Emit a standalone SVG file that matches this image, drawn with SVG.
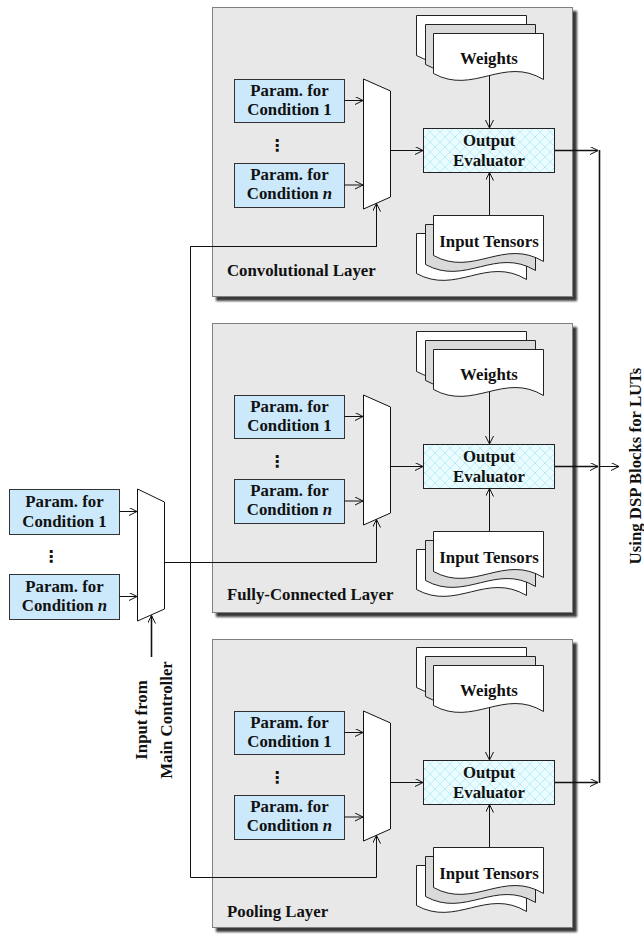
<svg xmlns="http://www.w3.org/2000/svg" xmlns:xlink="http://www.w3.org/1999/xlink" width="644" height="934" viewBox="0 0 644 934">
<style>
text{font-family:"Liberation Serif","Times New Roman",serif;font-weight:bold;font-size:16.8px;fill:#111}
.c{text-anchor:middle}
.layer{fill:#e8e8e8;stroke:#808080;stroke-width:1}
.param{fill:#cce9fb;stroke:#333;stroke-width:1}
.mux{fill:#fff;stroke:#111;stroke-width:1}
.eval{fill:url(#hatch);stroke:#222;stroke-width:1}
.sheet{fill:#fff;stroke:#222;stroke-width:1}
.dotted{fill:url(#dots);stroke:#222;stroke-width:1}
.wire{fill:none;stroke:#111;stroke-width:1}
.bus{fill:none;stroke:#111;stroke-width:1.6}
.dots{font-family:"DejaVu Sans",sans-serif;font-weight:bold;font-size:16px}
</style>
<defs>
<filter id="shadow" x="-5%" y="-5%" width="115%" height="115%">
<feDropShadow dx="4" dy="4" stdDeviation="1.2" flood-color="#222" flood-opacity="0.9"/>
</filter>
<pattern id="dots" width="2" height="2" patternUnits="userSpaceOnUse">
<rect width="2" height="2" fill="#f4f4f4"/><rect width="1" height="1" fill="#8a8a8a"/>
</pattern>
<pattern id="hatch" width="10" height="10" patternUnits="userSpaceOnUse">
<rect width="10" height="10" fill="#eafcff"/>
<path d="M0,5 L5,0 L10,5 L5,10 Z" fill="none" stroke="#bdeef6" stroke-width="1"/>
</pattern>
<path id="doc" d="M0,0 H110 V46 C70,22 40,62 0,40 Z"/>
<marker id="arr" markerWidth="10" markerHeight="10" refX="8" refY="4" orient="auto" markerUnits="userSpaceOnUse">
<path d="M0,0 L8,4 L0,8" fill="none" stroke="#111" stroke-width="1"/>
</marker>
</defs>

<!-- Convolutional layer -->
<g id="conv-layer" transform="translate(0,7)">
<rect class="layer" x="212.5" y="0.5" width="360" height="289" filter="url(#shadow)"/>
<text x="227" y="269">Convolutional Layer</text>
<g id="conv-param1"><rect class="param" x="234.5" y="72.5" width="110" height="43"/>
<text class="c" x="289.5" y="89">Param. for</text><text class="c" x="289.5" y="108">Condition 1</text></g>
<text class="dots c" x="277" y="144">⋮</text>
<g id="conv-paramn"><rect class="param" x="234.5" y="156.5" width="110" height="44"/>
<text class="c" x="289.5" y="173">Param. for</text><text class="c" x="289.5" y="192">Condition <tspan font-style="italic">n</tspan></text></g>
<g id="conv-mux"><polygon class="mux" points="363.5,72 390.5,84 390.5,190 363.5,202"/></g>
<g id="conv-weights">
<use href="#doc" class="sheet" x="416.5" y="8.5"/>
<use href="#doc" class="dotted" x="425.5" y="17.5"/>
<use href="#doc" class="sheet" x="433.5" y="26.5"/>
<text class="c" x="489" y="57">Weights</text></g>
<g id="conv-eval"><rect class="eval" x="423.5" y="121.5" width="131" height="44"/>
<text class="c" x="489" y="139">Output</text><text class="c" x="489" y="159">Evaluator</text></g>
<g id="conv-input">
<use href="#doc" class="sheet" x="416.5" y="226.5"/>
<use href="#doc" class="dotted" x="425.5" y="217.5"/>
<use href="#doc" class="sheet" x="433.5" y="208.5"/>
<text class="c" x="489" y="240">Input Tensors</text></g>
</g>

<!-- Fully-connected layer -->
<g id="fc-layer" transform="translate(0,323)">
<rect class="layer" x="212.5" y="0.5" width="360" height="289" filter="url(#shadow)"/>
<text x="227" y="277">Fully-Connected Layer</text>
<g id="fc-param1"><rect class="param" x="234.5" y="72.5" width="110" height="43"/>
<text class="c" x="289.5" y="89">Param. for</text><text class="c" x="289.5" y="108">Condition 1</text></g>
<text class="dots c" x="277" y="144">⋮</text>
<g id="fc-paramn"><rect class="param" x="234.5" y="156.5" width="110" height="44"/>
<text class="c" x="289.5" y="173">Param. for</text><text class="c" x="289.5" y="192">Condition <tspan font-style="italic">n</tspan></text></g>
<g id="fc-mux"><polygon class="mux" points="363.5,72 390.5,84 390.5,190 363.5,202"/></g>
<g id="fc-weights">
<use href="#doc" class="sheet" x="416.5" y="8.5"/>
<use href="#doc" class="dotted" x="425.5" y="17.5"/>
<use href="#doc" class="sheet" x="433.5" y="26.5"/>
<text class="c" x="489" y="57">Weights</text></g>
<g id="fc-eval"><rect class="eval" x="423.5" y="121.5" width="131" height="44"/>
<text class="c" x="489" y="139">Output</text><text class="c" x="489" y="159">Evaluator</text></g>
<g id="fc-input">
<use href="#doc" class="sheet" x="416.5" y="226.5"/>
<use href="#doc" class="dotted" x="425.5" y="217.5"/>
<use href="#doc" class="sheet" x="433.5" y="208.5"/>
<text class="c" x="489" y="240">Input Tensors</text></g>
</g>

<!-- Pooling layer -->
<g id="pool-layer" transform="translate(0,639)">
<rect class="layer" x="212.5" y="0.5" width="360" height="288" filter="url(#shadow)"/>
<text x="227" y="278">Pooling Layer</text>
<g id="pool-param1"><rect class="param" x="234.5" y="72.5" width="110" height="43"/>
<text class="c" x="289.5" y="89">Param. for</text><text class="c" x="289.5" y="108">Condition 1</text></g>
<text class="dots c" x="277" y="144">⋮</text>
<g id="pool-paramn"><rect class="param" x="234.5" y="156.5" width="110" height="44"/>
<text class="c" x="289.5" y="173">Param. for</text><text class="c" x="289.5" y="192">Condition <tspan font-style="italic">n</tspan></text></g>
<g id="pool-mux"><polygon class="mux" points="363.5,72 390.5,84 390.5,190 363.5,202"/></g>
<g id="pool-weights">
<use href="#doc" class="sheet" x="416.5" y="8.5"/>
<use href="#doc" class="dotted" x="425.5" y="17.5"/>
<use href="#doc" class="sheet" x="433.5" y="26.5"/>
<text class="c" x="489" y="57">Weights</text></g>
<g id="pool-eval"><rect class="eval" x="423.5" y="121.5" width="131" height="44"/>
<text class="c" x="489" y="139">Output</text><text class="c" x="489" y="159">Evaluator</text></g>
<g id="pool-input">
<use href="#doc" class="sheet" x="416.5" y="226.5"/>
<use href="#doc" class="dotted" x="425.5" y="217.5"/>
<use href="#doc" class="sheet" x="433.5" y="208.5"/>
<text class="c" x="489" y="240">Input Tensors</text></g>
</g>

<!-- Top-level selector -->
<g id="top-param1"><rect class="param" x="9.5" y="489.5" width="110" height="45"/>
<text class="c" x="64.5" y="507">Param. for</text><text class="c" x="64.5" y="527">Condition 1</text></g>
<text class="dots c" x="51" y="562">⋮</text>
<g id="top-paramn"><rect class="param" x="9.5" y="574.5" width="110" height="45"/>
<text class="c" x="64.5" y="592">Param. for</text><text class="c" x="64.5" y="611">Condition <tspan font-style="italic">n</tspan></text></g>
<g id="top-mux"><polygon class="mux" points="137.5,489 164.5,502 164.5,609 137.5,621"/></g>
<g id="main-controller-label">
<text class="c" transform="translate(147,720) rotate(-90)">Input from</text>
<text class="c" transform="translate(172,720) rotate(-90)">Main Controller</text>
</g>
<g id="dsp-label">
<text class="c" transform="translate(641,466) rotate(-90)">Using DSP Blocks for LUTs</text>
</g>

<!-- Connectors -->
<g id="connectors">
<!-- conv -->
<path class="wire" d="M344.5,100.5 H363" marker-end="url(#arr)"/>
<path class="wire" d="M344.5,185 H363" marker-end="url(#arr)"/>
<path class="wire" d="M390.5,150.5 H423" marker-end="url(#arr)"/>
<path class="wire" d="M489.5,75 V128" marker-end="url(#arr)"/>
<path class="wire" d="M489.5,215 V172.5" marker-end="url(#arr)"/>
<path class="bus" d="M555,150.5 H598" marker-end="url(#arr)"/>
<!-- fc -->
<path class="wire" d="M344.5,416.5 H363" marker-end="url(#arr)"/>
<path class="wire" d="M344.5,501 H363" marker-end="url(#arr)"/>
<path class="wire" d="M390.5,466.5 H423" marker-end="url(#arr)"/>
<path class="wire" d="M489.5,391 V444" marker-end="url(#arr)"/>
<path class="wire" d="M489.5,531 V488.5" marker-end="url(#arr)"/>
<path class="bus" d="M555,466.5 H598" marker-end="url(#arr)"/>
<!-- pool -->
<path class="wire" d="M344.5,732.5 H363" marker-end="url(#arr)"/>
<path class="wire" d="M344.5,817 H363" marker-end="url(#arr)"/>
<path class="wire" d="M390.5,782.5 H423" marker-end="url(#arr)"/>
<path class="wire" d="M489.5,707 V760" marker-end="url(#arr)"/>
<path class="wire" d="M489.5,847 V804.5" marker-end="url(#arr)"/>
<path class="bus" d="M555,782.5 H598" marker-end="url(#arr)"/>
<!-- output bus -->
<path class="bus" d="M599.5,150 V783"/>
<path class="wire" d="M599.5,466.5 H619" marker-end="url(#arr)"/>
<!-- top selector -->
<path class="wire" d="M119.5,511.5 H137" marker-end="url(#arr)"/>
<path class="wire" d="M119.5,596.5 H137" marker-end="url(#arr)"/>
<path class="bus" d="M151.5,657 V615.5" marker-end="url(#arr)"/>
<path class="wire" d="M164.5,562.5 H376.5 V519.5" marker-end="url(#arr)"/>
<path class="wire" d="M376.5,203.5 V246.5 H190.5 V877.5 H376.5 V835.5" marker-end="url(#arr)"/>
<path class="wire" d="M190.5,246.5 H376.5 V203.5" marker-end="url(#arr)"/>
</g>
</svg>
